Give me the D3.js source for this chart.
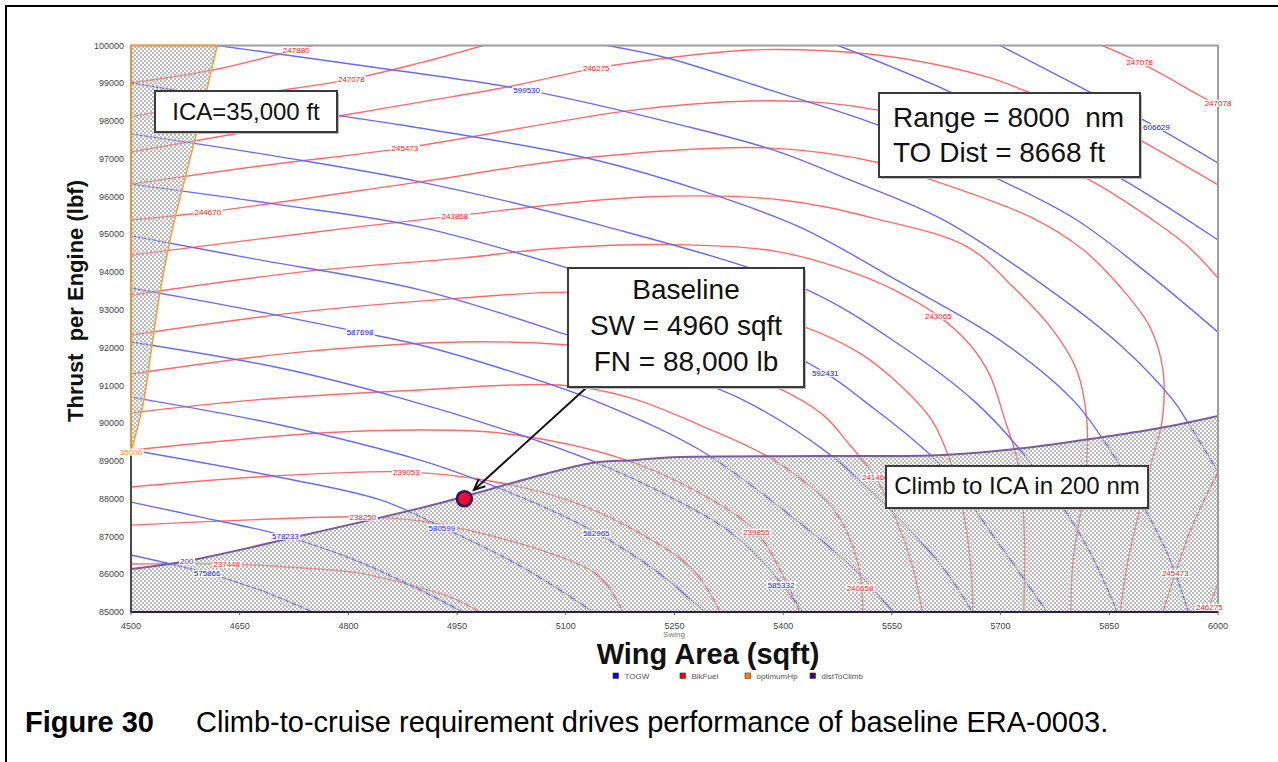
<!DOCTYPE html>
<html>
<head>
<meta charset="utf-8">
<script src="https://cdn.jsdelivr.net/npm/d3@7"></script>
<style>
  html, body { margin: 0; padding: 0; background: #fff; }
  svg { display: block; font-family: "Liberation Sans", Arial, Helvetica, sans-serif; }
</style>
</head>
<body>
<svg id="chart" width="1278" height="762"></svg>
<script>
// ---- axis ticks ----
const wingAreaTicks = [4500, 4650, 4800, 4950, 5100, 5250, 5400, 5550, 5700, 5850, 6000];
const thrustTicks = [85000, 86000, 87000, 88000, 89000, 90000, 91000, 92000, 93000, 94000,
                     95000, 96000, 97000, 98000, 99000, 100000];

// ---- TOGW contours (wing area sqft, thrust lbf) ----
const togwLevels = [575866, 578233, 580599, 582965, 585332, 587698, 590065,
                    592431, 594797, 597164, 599530, 601896, 604263, 606629];
const togwPaths = [
  [[4500,86510],[4605,86030],[4678,85580],[4751,85000]],
  [[4500,87910],[4595,87520],[4713,87010],[4802,86430],[4885,85715],[4958,85000]],
  [[4500,89290],[4696,88600],[4844,87970],[4929,87250],[5037,86220],[5138,85000]],
  [[4500,90690],[4706,89950],[4899,89020],[4982,88470],[5064,87830],[5143,87090],[5223,86110],[5292,85000]],
  [[4500,92150],[4706,91460],[4871,90670],[5009,89870],[5143,88950],[5244,88050],[5327,87120],[5382,86110],[5427,85000]],
  [[4500,93580],[4664,93000],[4816,92410],[4899,92070],[5009,91460],[5138,90610],[5285,89290],[5409,87570],[5492,86240],[5552,85000]],
  [[4500,94960],[4664,94370],[4899,93530],[5103,92330],[5230,91460],[5345,90610],[5465,89160],[5561,87440],[5623,86110],[5661,85000]],
  [[4500,96330],[4706,95780],[4899,95190],[5147,93840],[5313,92730],[5458,91330],[5510,90610],[5614,88950],[5699,86770],[5764,85000]],
  [[4500,97660],[4706,97050],[4899,96390],[5147,95250],[5427,93580],[5561,92070],[5662,90610],[5727,89290],[5814,86910],[5861,85000]],
  [[4500,99010],[4678,98450],[4871,97900],[5129,97020],[5285,96170],[5423,95190],[5561,93740],[5699,92200],[5800,90610],[5851,89290],[5892,87970],[5931,86510],[5959,85000]],
  [[4619,100000],[4862,99350],[5046,98820],[5258,97900],[5387,97230],[5492,96440],[5621,95380],[5768,93530],[5865,92070],[5938,90610],[5959,90000],[6000,88710]],
  [[5157,100000],[5240,99670],[5382,98820],[5534,97870],[5694,96490],[5805,95380],[5906,93920],[6000,92410]],
  [[5476,100000],[5634,98740],[5754,97550],[5865,96490],[6000,94850]],
  [[5699,100000],[5826,98740],[5915,97840],[6000,96890]]
];
const togwLabelAt = [
  [[4605,86030]], [[4713,87010]], [[4929,87230]], [[5142,87090]], [[5397,85720]],
  [[4816,92410]], [], [[5458,91330]], [[5738,88790]], [],
  [[5046,98820]], [], [], [[5915,97840]]
];

// ---- block fuel contours (each level may have several pieces) ----
const fuelLevels = [237448, 238250, 239053, 239855, 240658, 241460, 242263,
                    243065, 243868, 244670, 245473, 246275, 247078, 247880];
const fuelPaths = [
  [[[4500,86270],[4632,86270],[4733,86170],[4816,86030],[4899,85640],[4940,85400],[4982,85000]]],
  [[[4500,87300],[4664,87440],[4820,87520],[4899,87410],[4964,87170],[5078,86560],[5147,85930],[5179,85000]]],
  [[[4500,88310],[4696,88600],[4880,88710],[4995,88470],[5102,87970],[5202,87090],[5276,86110],[5313,85000]]],
  [[[4500,89290],[4761,89740],[4899,89820],[5009,89740],[5171,89100],[5285,88150],[5363,87120],[5398,86030],[5423,85000]]],
  [[[4500,90270],[4668,90610],[4899,90880],[5092,91010],[5186,90690],[5285,89950],[5387,89020],[5470,87700],[5502,86380],[5510,85000]]],
  [[[4500,91300],[4733,91880],[4954,92150],[5103,92070],[5285,91620],[5393,90930],[5455,90220],[5492,89420],[5527,88570],[5556,87440],[5578,86240],[5592,85000]]],
  [[[4500,92330],[4733,92940],[4954,93310],[5103,93470],[5285,93260],[5429,92550],[5505,91860],[5561,91010],[5605,90080],[5630,89020],[5648,87700],[5658,86380],[5662,85000]]],
  [[[4500,93390],[4733,94000],[4954,94370],[5092,94640],[5269,94720],[5396,94530],[5506,93920],[5561,93450],[5614,92840],[5658,92070],[5685,91280],[5706,90080],[5723,89020],[5732,87440],[5732,85000]]],
  [[[4500,94450],[4733,95010],[4947,95490],[5209,95990],[5398,95910],[5524,95430],[5654,94670],[5717,93610],[5772,92470],[5805,91410],[5819,90080],[5817,88500],[5800,86380],[5797,85000]]],
  [[[4500,95380],[4606,95590],[4899,96390],[5124,97020],[5375,97290],[5534,96890],[5605,96440],[5741,95460],[5814,94590],[5865,93610],[5906,92550],[5924,91410],[5923,90080],[5909,89020],[5876,86380],[5865,85000]]],
  [[[4500,96330],[4678,96810],[4878,97290],[5193,98290],[5354,98530],[5458,98480],[5531,98290],[5685,97550],[5818,96490],[5910,95380],[5961,94640],[6000,93840]],
   [[6000,88710],[5964,87250],[5941,86030],[5924,85000]]],
  [[[4500,97180],[4692,97820],[4899,98500],[5019,98900],[5142,99400],[5240,99670],[5354,99880],[5458,99860],[5561,99670],[5681,99170],[5743,98740],[5823,98210],[5892,97500],[6000,96310]],
   [[6000,85720],[5992,85370],[5986,85000]]],
  [[[4500,98110],[4650,98640],[4804,99110],[4899,99540],[4986,100000]],
   [[5840,100000],[5876,99700],[5920,99270],[5961,98820],[6000,98400]]],
  [[[4500,99010],[4613,99350],[4706,99780],[4751,100000]]]
];
const fuelLabelAt = [
  [[4632,86270]], [[4820,87520]], [[4880,88710]], [[5363,87120]], [[5506,85640]],
  [[5527,88570]], [], [[5614,92840]], [[4947,95490]], [[4606,95590]],
  [[4878,97290],[5941,86030]], [[5142,99400],[5988,85130]],
  [[4804,99110],[5892,99560],[6000,98480]], [[4728,99880]]
];

// ---- constraint boundaries ----
const climbBoundary = [[4500,86140],[4577,86350],[4733,87010],[4899,87750],[4968,88100],[5051,88550],
                       [5138,88950],[5193,89020],[5248,89100],[5451,89130],[5621,89160],[5745,89370],
                       [5841,89630],[5920,89870],[6000,90190]];
const climbLabel = "200";
const climbLabelAt = [4577, 86350];
const optimumHpLine = [[4619,100000],[4588,97500],[4557,95120],[4540,93470],[4528,91940],[4517,90530],[4500,89240]];
const optimumHpLabel = "35000";
const optimumHpLabelAt = [4500, 89240];

// ---- baseline design point ----
const baselineSW = 4960;
const baselineFN = 88000;

// ---- legend ----
const legendNames = ["TOGW", "BlkFuel", "optimumHp", "distToClimb"];
const legendColors = ["#0000ff", "#ff0000", "#ff8000", "#400080"];

// ===================== drawing =====================
const svg = d3.select("#chart");
const X0 = 131, X1 = 1218, Y0 = 45.5, Y1 = 612;
const x = d3.scaleLinear().domain([4500, 6000]).range([X0, X1]);
const y = d3.scaleLinear().domain([85000, 100000]).range([Y1, Y0]);

const defs = svg.append("defs");
defs.append("clipPath").attr("id", "plotClip")
  .append("rect").attr("x", X0).attr("y", Y0).attr("width", X1 - X0).attr("height", Y1 - Y0);
const pat = defs.append("pattern").attr("id", "checker")
  .attr("width", 4).attr("height", 4).attr("patternUnits", "userSpaceOnUse");
pat.append("rect").attr("x", 0).attr("y", 0).attr("width", 2).attr("height", 2).attr("fill", "#bababa");
pat.append("rect").attr("x", 2).attr("y", 2).attr("width", 2).attr("height", 2).attr("fill", "#bababa");

// figure frame
svg.append("path").attr("d", "M6,770 V6 H1290")
  .attr("fill", "none").attr("stroke", "#000").attr("stroke-width", 2);

const plot = svg.append("g").attr("clip-path", "url(#plotClip)");
plot.append("rect").attr("x", X0).attr("y", Y0).attr("width", X1 - X0).attr("height", Y1 - Y0).attr("fill", "#fff");

const line = d3.line().x(d => x(d[0])).y(d => y(d[1])).curve(d3.curveCatmullRom.alpha(0.5));

// contour lines
fuelPaths.forEach(pieces => pieces.forEach(p => {
  plot.append("path").attr("d", line(p)).attr("fill", "none")
    .attr("stroke", "#ff6a6a").attr("stroke-width", 1.4);
}));
togwPaths.forEach(p => {
  plot.append("path").attr("d", line(p)).attr("fill", "none")
    .attr("stroke", "#6a6af2").attr("stroke-width", 1.4);
});

// infeasible regions (hatched)
const climbArea = line(climbBoundary) + `L${x(6000)},${y(85000)}L${x(4500)},${y(85000)}Z`;
plot.append("path").attr("d", climbArea).attr("fill", "url(#checker)");
const hpArea = line(optimumHpLine) + `L${x(4500)},${y(100000)}Z`;
plot.append("path").attr("d", hpArea).attr("fill", "url(#checker)");

// boundary lines
plot.append("path").attr("d", line(climbBoundary)).attr("fill", "none")
  .attr("stroke", "#7a5c9e").attr("stroke-width", 2);
plot.append("path").attr("d", line(optimumHpLine)).attr("fill", "none")
  .attr("stroke", "#f5a048").attr("stroke-width", 1.6);

// plot frame and axes
svg.append("rect").attr("x", X0).attr("y", Y0).attr("width", X1 - X0).attr("height", Y1 - Y0)
  .attr("fill", "none").attr("stroke", "#9e9e9e").attr("stroke-width", 2);
svg.append("line").attr("x1", X0).attr("x2", X0).attr("y1", Y0).attr("y2", y(optimumHpLabelAt[1]))
  .attr("stroke", "#e8963c").attr("stroke-width", 2);
svg.append("line").attr("x1", X0).attr("x2", x(optimumHpLine[0][0])).attr("y1", Y0).attr("y2", Y0)
  .attr("stroke", "#f5a048").attr("stroke-width", 2);
svg.append("line").attr("x1", X0).attr("x2", X0).attr("y1", y(optimumHpLabelAt[1])).attr("y2", Y1)
  .attr("stroke", "#4a4a4a").attr("stroke-width", 2);
svg.append("line").attr("x1", X0).attr("x2", X1).attr("y1", Y1).attr("y2", Y1)
  .attr("stroke", "#2e2240").attr("stroke-width", 2);

// tick labels
const tickG = svg.append("g").attr("font-size", 9).attr("fill", "#444");
thrustTicks.forEach(t => {
  tickG.append("text").attr("x", 124).attr("y", y(t)).attr("dy", "0.35em")
    .attr("text-anchor", "end").text(t);
});
wingAreaTicks.forEach(t => {
  tickG.append("text").attr("x", x(t)).attr("y", 629).attr("text-anchor", "middle").text(t);
  svg.append("line").attr("x1", x(t)).attr("x2", x(t)).attr("y1", Y1).attr("y2", Y1 + 3)
    .attr("stroke", "#555").attr("stroke-width", 1);
});

// contour value labels with white backing
const labelG = svg.append("g").attr("font-size", 8);
function valueLabel(px, py, txt, color) {
  const g = labelG.append("g");
  const r = g.append("rect").attr("fill", "#fff");
  const t = g.append("text").attr("x", px).attr("y", py).attr("dy", "0.35em")
    .attr("text-anchor", "middle").attr("fill", color).text(txt);
  const bb = t.node().getBBox();
  r.attr("x", bb.x - 1).attr("y", bb.y + 1).attr("width", bb.width + 2).attr("height", bb.height - 2);
}
fuelLabelAt.forEach((list, i) => list.forEach(p => valueLabel(x(p[0]), y(p[1]), fuelLevels[i], "#ff1010")));
togwLabelAt.forEach((list, i) => list.forEach(p => valueLabel(x(p[0]), y(p[1]), togwLevels[i], "#1010ff")));
valueLabel(x(climbLabelAt[0]), y(climbLabelAt[1]), climbLabel, "#5a2a8a");
valueLabel(x(optimumHpLabelAt[0]), y(optimumHpLabelAt[1]), optimumHpLabel, "#f08a20");

// baseline marker and pointer
const bx = x(baselineSW), by = y(baselineFN);
const sx = 586, sy = 388;
const len = Math.hypot(sx - bx, sy - by);
const ux = (sx - bx) / len, uy = (sy - by) / len;
const tx = bx + ux * 13, ty = by + uy * 13;
svg.append("line").attr("x1", sx).attr("y1", sy).attr("x2", tx).attr("y2", ty)
  .attr("stroke", "#111").attr("stroke-width", 2);
const ang = Math.atan2(uy, ux), headLen = 12, spread = 0.42;
const hx1 = tx + headLen * Math.cos(ang + spread), hy1 = ty + headLen * Math.sin(ang + spread);
const hx2 = tx + headLen * Math.cos(ang - spread), hy2 = ty + headLen * Math.sin(ang - spread);
svg.append("path").attr("d", `M${hx1},${hy1}L${tx},${ty}L${hx2},${hy2}`)
  .attr("fill", "none").attr("stroke", "#111").attr("stroke-width", 2);
svg.append("circle").attr("cx", bx).attr("cy", by).attr("r", 7.5)
  .attr("fill", "#e8102e").attr("stroke", "#3a0a5c").attr("stroke-width", 2.5);

// annotation boxes
function noteBox(x0, y0, x1, y1, lines) {
  const g = svg.append("g");
  g.append("rect").attr("x", x0 + 2).attr("y", y0 + 2).attr("width", x1 - x0).attr("height", y1 - y0)
    .attr("fill", "#bbb");
  g.append("rect").attr("x", x0).attr("y", y0).attr("width", x1 - x0).attr("height", y1 - y0)
    .attr("fill", "#fff").attr("stroke", "#3a3a3a").attr("stroke-width", 2);
  lines.forEach(l => {
    g.append("text").attr("x", l.x).attr("y", l.y).attr("font-size", l.size)
      .attr("text-anchor", l.anchor || "start").attr("fill", "#111").text(l.text);
  });
}
noteBox(155, 91, 337, 132, [{ text: "ICA=35,000 ft", x: 246, y: 120, size: 24, anchor: "middle" }]);
noteBox(879, 93, 1140, 177, [
  { text: "Range = 8000\u00a0\u00a0nm", x: 893, y: 127, size: 28 },
  { text: "TO Dist = 8668 ft", x: 893, y: 162, size: 28 }
]);
noteBox(568, 268, 804, 387, [
  { text: "Baseline", x: 686, y: 299, size: 28, anchor: "middle" },
  { text: "SW = 4960 sqft", x: 686, y: 335, size: 28, anchor: "middle" },
  { text: "FN = 88,000 lb", x: 686, y: 371, size: 28, anchor: "middle" }
]);
noteBox(886, 466, 1148, 508, [{ text: "Climb to ICA in 200 nm", x: 1017, y: 494, size: 24, anchor: "middle" }]);

// axis titles
svg.append("text").attr("transform", "translate(83,301) rotate(-90)")
  .attr("text-anchor", "middle").attr("font-size", 22).attr("font-weight", "bold")
  .attr("fill", "#111").text("Thrust\u00a0\u00a0per Engine (lbf)");
svg.append("text").attr("x", 708).attr("y", 664).attr("text-anchor", "middle")
  .attr("font-size", 29).attr("font-weight", "bold").attr("fill", "#111").text("Wing Area (sqft)");
svg.append("text").attr("x", 674).attr("y", 637).attr("text-anchor", "middle")
  .attr("font-size", 8).attr("fill", "#777").text("Swing");

// legend
const legX = [613, 680, 745, 810];
legendNames.forEach((n, i) => {
  svg.append("rect").attr("x", legX[i]).attr("y", 673).attr("width", 5.5).attr("height", 5.5)
    .attr("fill", legendColors[i]).attr("stroke", "#333").attr("stroke-width", 0.6);
  svg.append("text").attr("x", legX[i] + 11.5).attr("y", 679).attr("font-size", 8)
    .attr("fill", "#555").text(n);
});

// caption
svg.append("text").attr("x", 25).attr("y", 732).attr("font-size", 29).attr("font-weight", "bold")
  .attr("fill", "#000").text("Figure 30");
svg.append("text").attr("x", 196).attr("y", 732).attr("font-size", 29)
  .attr("fill", "#000").text("Climb-to-cruise requirement drives performance of baseline ERA-0003.");
</script>
</body>
</html>
